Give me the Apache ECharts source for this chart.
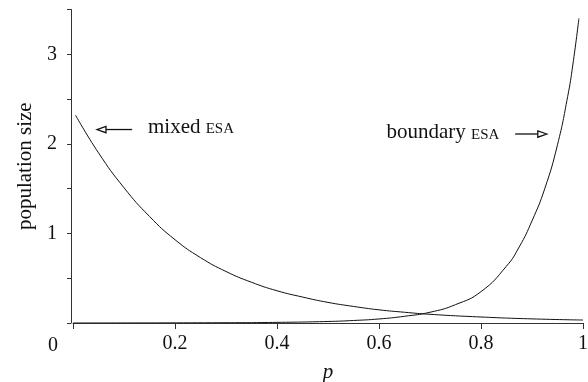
<!DOCTYPE html>
<html>
<head>
<meta charset="utf-8">
<script src="https://cdn.jsdelivr.net/npm/echarts@6/dist/echarts.min.js"></script>
<style>
  html, body { margin: 0; padding: 0; background: #fff; }
  #chart { width: 588px; height: 382px; }
</style>
</head>
<body>
<div id="chart"></div>
<script>
// Population size at the mixed ESA as a function of p
const mixedP = [0.005, 0.05, 0.1, 0.15, 0.2, 0.25, 0.3, 0.35, 0.4, 0.45, 0.5, 0.55, 0.6, 0.65, 0.7, 0.8, 0.9, 1.0];
const mixedN = [2.32, 1.9, 1.51, 1.19, 0.93, 0.73, 0.575, 0.455, 0.36, 0.29, 0.23, 0.185, 0.147, 0.12, 0.097, 0.067, 0.046, 0.033];

// Population size at the boundary ESA as a function of p
const boundaryP = [0, 0.3, 0.4, 0.5, 0.55, 0.6, 0.65, 0.7, 0.75, 0.8, 0.85, 0.875, 0.9, 0.925, 0.95, 0.97, 0.98, 0.992];
const boundaryN = [0, 0.003, 0.007, 0.017, 0.028, 0.045, 0.075, 0.12, 0.205, 0.35, 0.635, 0.85, 1.14, 1.50, 1.99, 2.53, 2.88, 3.40];

const xTicks = [0, 0.2, 0.4, 0.6, 0.8, 1];
const yLabels = [1, 2, 3];

const FONT = '"Liberation Serif", "DejaVu Serif", serif';

const chart = echarts.init(document.getElementById('chart'));

const pairs = (xs, ys) => xs.map((x, i) => [x, ys[i]]);

chart.setOption({
  animation: false,
  backgroundColor: '#fff',
  grid: { left: 73, right: 5, top: 9.5, bottom: 59, outerBoundsMode: 'none', containLabel: false },
  xAxis: {
    type: 'value',
    min: 0, max: 1, interval: 0.2,
    name: 'p',
    nameLocation: 'middle',
    nameGap: 39,
    nameTextStyle: { fontFamily: FONT, fontSize: 21, fontStyle: 'italic', color: '#111' },
    axisLine: { show: true, onZero: false, lineStyle: { color: '#333', width: 1 } },
    axisTick: { show: true, length: 6, inside: false, lineStyle: { color: '#333' } },
    splitLine: { show: false },
    axisLabel: {
      margin: 11,
      fontFamily: FONT, fontSize: 20, color: '#111',
      formatter: v => (v === 0 ? '' : (xTicks.includes(+v.toFixed(1)) ? String(+v.toFixed(1)) : ''))
    }
  },
  yAxis: {
    type: 'value',
    min: 0, max: 3.5, interval: 0.5,
    offset: 2,
    name: 'population size',
    nameLocation: 'middle',
    nameGap: 35,
    nameTextStyle: { fontFamily: FONT, fontSize: 21, color: '#111' },
    axisLine: { show: true, onZero: false, lineStyle: { color: '#333', width: 1 } },
    axisTick: { show: true, length: 4, lineStyle: { color: '#333' } },
    splitLine: { show: false },
    axisLabel: {
      margin: 14,
      fontFamily: FONT, fontSize: 20, color: '#111',
      formatter: v => (yLabels.includes(v) ? String(v) : '')
    }
  },
  series: [
    {
      name: 'mixed ESA',
      type: 'line',
      data: pairs(mixedP, mixedN),
      smooth: 0.5,
      showSymbol: false,
      lineStyle: { color: '#111', width: 1 }
    },
    {
      name: 'boundary ESA',
      type: 'line',
      data: pairs(boundaryP, boundaryN),
      smooth: 0.5,
      showSymbol: false,
      lineStyle: { color: '#111', width: 1 }
    }
  ]
});

// Annotations placed in data coordinates
const px = (p, n) => chart.convertToPixel({ gridIndex: 0 }, [p, n]);

function arrow(fromP, toP, n) {
  const a = px(fromP, n), b = px(toP, n);
  const dir = Math.sign(b[0] - a[0]);
  const headLen = 9, half = 3.2;
  const base = b[0] - dir * headLen;
  return [
    { type: 'line', shape: { x1: a[0], y1: a[1], x2: base, y2: b[1] },
      style: { stroke: '#111', lineWidth: 1.3 } },
    { type: 'polygon', shape: { points: [[b[0], b[1]], [base, b[1] - half], [base, b[1] + half]] },
      style: { fill: '#fff', stroke: '#111', lineWidth: 1.3 } }
  ];
}

// A word followed by an acronym in small capitals, both on one baseline.
const WORD_SIZE = 21, CAPS_SIZE = 15;
const measureCtx = document.createElement('canvas').getContext('2d');
function textWidth(str, size) {
  measureCtx.font = size + 'px ' + FONT;
  return measureCtx.measureText(str).width;
}
function label(word, acronym, x, y, anchor) {
  const wW = textWidth(word + ' ', WORD_SIZE);
  const aW = textWidth(acronym, CAPS_SIZE);
  const left = anchor === 'right' ? x - wW - aW : x;
  // with middle alignment the baseline sits ~0.34em below y
  const capsY = y + 0.34 * (WORD_SIZE - CAPS_SIZE);
  return [
    { type: 'text', x: left, y: y,
      style: { text: word, fontFamily: FONT, fontSize: WORD_SIZE, fill: '#111', align: 'left', verticalAlign: 'middle' } },
    { type: 'text', x: left + wW, y: capsY,
      style: { text: acronym, fontFamily: FONT, fontSize: CAPS_SIZE, fill: '#111', align: 'left', verticalAlign: 'middle' } }
  ];
}

const mixedText = px(0.147, 2.185);
const boundaryText = px(0.836, 2.125);
const origin = px(0, 0);

chart.setOption({
  graphic: [
    ...arrow(0.116, 0.047, 2.16),
    ...arrow(0.867, 0.929, 2.11),
    ...label('mixed', 'ESA', mixedText[0], mixedText[1], 'left'),
    ...label('boundary', 'ESA', boundaryText[0], boundaryText[1], 'right'),
    { type: 'text', x: origin[0] - 20, y: origin[1] + 23,
      style: { text: '0', fontFamily: FONT, fontSize: 20, fill: '#111', align: 'center', verticalAlign: 'middle' } }
  ]
});
</script>
</body>
</html>
